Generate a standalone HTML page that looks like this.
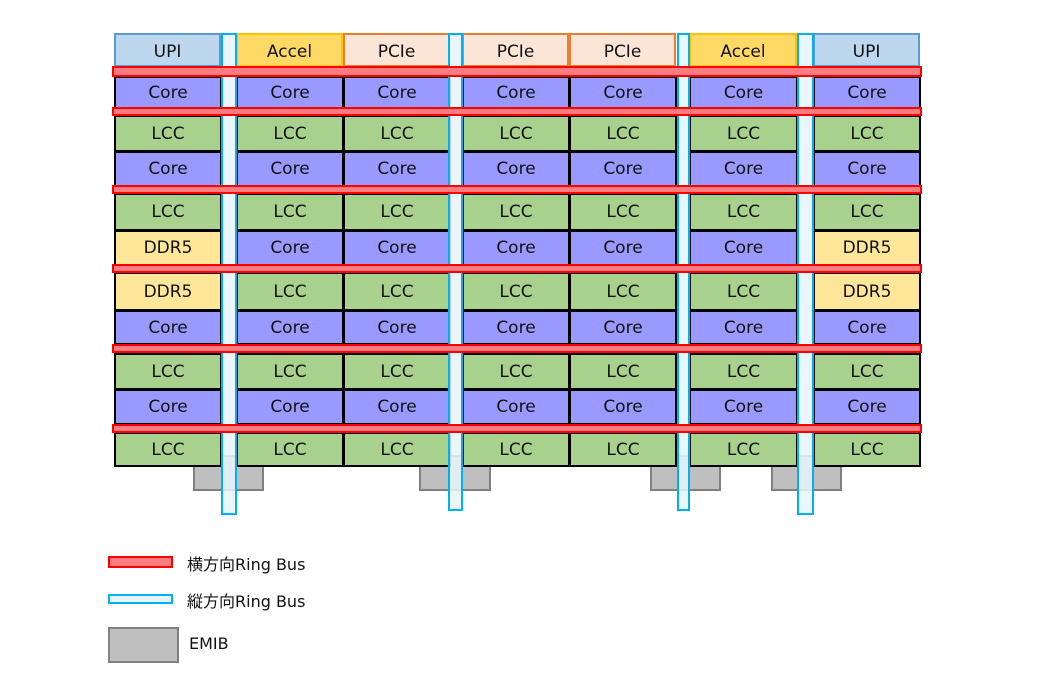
<!DOCTYPE html>
<html><head><meta charset="utf-8"><style>
body{margin:0;width:1047px;height:698px;background:#fff;position:relative;overflow:hidden;font-family:"DejaVu Sans","Noto Sans CJK JP",sans-serif;}
.a{position:absolute;box-sizing:border-box;}
.c{display:flex;align-items:center;justify-content:center;font-size:17px;color:#111;border:2px solid #000;}
.emib{background:#bfbfbf;border:2px solid #808080;}
.h{background:#ff7c80;border:2px solid #ff0000;}
.v{background:rgba(232,244,252,0.85);border:2px solid #00b0f0;}
.t{font-size:16px;color:#111;}
</style></head><body>
<div class="a emib" style="left:193px;top:455px;width:71px;height:36px"></div>
<div class="a emib" style="left:419px;top:455px;width:72px;height:36px"></div>
<div class="a emib" style="left:650px;top:455px;width:71px;height:36px"></div>
<div class="a emib" style="left:771px;top:455px;width:71px;height:36px"></div>
<div id="g"></div>
<div class="a v" style="left:221px;top:33px;width:16px;height:482px"></div>
<div class="a v" style="left:448px;top:33px;width:15px;height:478px"></div>
<div class="a v" style="left:677px;top:33px;width:13px;height:478px"></div>
<div class="a v" style="left:797px;top:33px;width:17px;height:482px"></div>
<div id="hb"></div>
<div class="a h" style="left:108px;top:556px;width:65px;height:12px"></div>
<div class="a t" style="left:187px;top:551px">横方向Ring Bus</div>
<div class="a v" style="left:108px;top:594px;width:65px;height:10px;background:#e8f4fc"></div>
<div class="a t" style="left:187px;top:588px">縦方向Ring Bus</div>
<div class="a emib" style="left:108px;top:627px;width:71px;height:36px"></div>
<div class="a t" style="left:189px;top:634px">EMIB</div>
<script>
var cx=[[114,221],[236,343],[343,450],[462,569],[569,676],[689,797],[813,920]];
var ry=[[76,108],[115,151],[151,186],[193,230],[230,265],[272,310],[310,344],[353,389],[389,424],[432,466]];
var col={Core:'#9999ff',LCC:'#a9d18e',DDR5:'#ffe699'};
var rows=[['Core'],['LCC'],['Core'],['LCC'],['DDR5','Core','Core','Core','Core','Core','DDR5'],['DDR5','LCC','LCC','LCC','LCC','LCC','DDR5'],['Core'],['LCC'],['Core'],['LCC']];
var h='';
var hd=[['UPI','#bdd7ee','#5b9bd5'],['Accel','#ffd966','#ffc000'],['PCIe','#fbe5d6','#ed7d31'],['PCIe','#fbe5d6','#ed7d31'],['PCIe','#fbe5d6','#ed7d31'],['Accel','#ffd966','#ffc000'],['UPI','#bdd7ee','#5b9bd5']];
for(var i=0;i<7;i++){h+='<div class="a c" style="left:'+cx[i][0]+'px;top:33px;width:'+(cx[i][1]-cx[i][0])+'px;height:34px;padding-top:4px;background:'+hd[i][1]+';border-color:'+hd[i][2]+'">'+hd[i][0]+'</div>';}
for(var r=0;r<10;r++)for(var i=0;i<7;i++){var n=rows[r].length==1?rows[r][0]:rows[r][i];
h+='<div class="a c" style="left:'+cx[i][0]+'px;top:'+ry[r][0]+'px;width:'+(cx[i][1]-cx[i][0]+1)+'px;height:'+(ry[r][1]-ry[r][0]+1)+'px;background:'+col[n]+'">'+n+'</div>';}
document.getElementById('g').innerHTML=h;
var hb=[[66,11],[107,9],[185,9],[264,9],[344,9],[424,9]];var s='';
for(var k=0;k<6;k++)s+='<div class="a h" style="left:112px;top:'+hb[k][0]+'px;width:810px;height:'+hb[k][1]+'px"></div>';
document.getElementById('hb').innerHTML=s;
</script>
</body></html>
